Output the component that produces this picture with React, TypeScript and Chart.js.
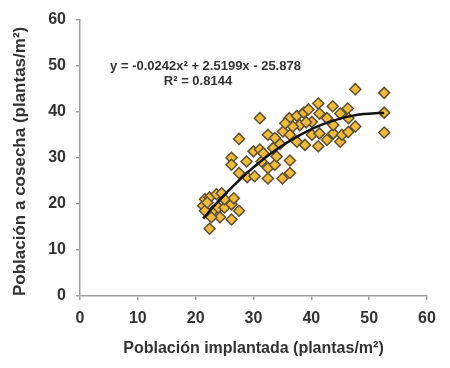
import React, { useEffect, useRef } from "react";
import { Chart, registerables } from "chart.js";

Chart.register(...registerables);

// Scatter data: Población implantada (x) vs Población a cosecha (y)
const implantada: number[] = [
  21.3, 21.6, 22.4, 23.6, 22.4, 23.0, 23.9, 25.0, 26.2, 27.5, 26.2, 24.2, 22.7, 21.6, 25.0, 22.0, 24.5, 26.6,
  26.2, 26.2, 27.5, 28.9, 30.2, 31.4, 32.5, 33.7, 32.5, 35.0, 36.3, 36.3, 34.0, 28.8, 30.0, 31.1, 31.7, 33.4,
  27.5, 31.1, 32.5, 33.7, 35.1, 36.3, 34.6,
  36.2, 37.5, 38.7, 40.1, 41.4, 42.7, 41.2, 38.0, 39.1, 37.5, 38.9, 40.1, 41.4, 41.2, 42.7, 43.8, 45.0, 45.3,
  46.4, 43.8, 47.6, 46.4, 45.0, 46.3, 43.7, 47.6, 52.6, 52.6, 52.6, 39.5, 36.8, 35.5,
];
const cosecha: number[] = [
  19.6, 21.0, 21.4, 22.1, 14.6, 18.5, 19.2, 19.2, 19.9, 18.5, 16.6, 17.1, 17.1, 18.5, 21.0, 20.3, 22.3, 21.2,
  30.0, 28.5, 26.7, 25.8, 26.0, 29.2, 27.8, 28.5, 25.5, 25.5, 29.4, 26.7, 30.3, 29.2, 31.4, 31.8, 31.0, 32.1,
  34.1, 38.6, 35.0, 34.3, 35.7, 35.0, 33.0,
  38.6, 39.1, 39.8, 37.8, 39.6, 38.6, 41.8, 37.1, 37.7, 33.5, 32.8, 35.0, 35.3, 32.5, 33.9, 35.3, 33.5, 35.0,
  35.6, 37.1, 36.8, 38.6, 39.6, 40.7, 41.2, 44.9, 44.1, 39.8, 35.5, 40.5, 36.8, 37.5,
];

// Polynomial trendline coefficients as printed on the chart (a x^2 + b x + c)
const trendCoeffs: number[] = [-0.0242, 2.5199, -25.878];
const trendX: number[] = [21.3, 23, 25, 27, 29, 31, 33, 35, 37, 39, 41, 43, 45, 47, 49, 51, 52.6];

const xTicks: number[] = [0, 10, 20, 30, 40, 50, 60];
const yTicks: number[] = [0, 10, 20, 30, 40, 50, 60];

const equationText = "y = -0.0242x² + 2.5199x - 25.878";
const r2Text = "R² = 0.8144";
const xTitle = "Población implantada (plantas/m²)";
const yTitle = "Población a cosecha (plantas/m²)";

const FONT = "'Liberation Sans', Arial, sans-serif";
const TEXT_COLOR = "#333333";
const AXIS_COLOR = "#a0a0a0";

export default function App() {
  const ref = useRef<HTMLCanvasElement | null>(null);

  useEffect(() => {
    if (!ref.current) return;
    const trendPts = trendX.map((x) => ({
      x,
      y: trendCoeffs[0] * x * x + trendCoeffs[1] * x + trendCoeffs[2],
    }));
    const pts = implantada.map((x, i) => ({ x, y: cosecha[i] }));

    const eqPlugin = {
      id: "eqText",
      afterDatasetsDraw(chart: any) {
        const { ctx, scales } = chart;
        ctx.save();
        ctx.fillStyle = TEXT_COLOR;
        ctx.font = `bold 13px ${FONT}`;
        ctx.textAlign = "center";
        ctx.textBaseline = "middle";
        ctx.fillText(equationText, scales.x.getPixelForValue(21.7), scales.y.getPixelForValue(49.9));
        ctx.fillText(r2Text, scales.x.getPixelForValue(20.4), scales.y.getPixelForValue(46.6));
        ctx.restore();
      },
    };

    const chart = new Chart(ref.current, {
      type: "scatter",
      data: {
        datasets: [
          {
            type: "scatter",
            data: pts,
            pointStyle: "rectRot",
            pointRadius: 5.5,
            backgroundColor: "#F0BA3C",
            borderColor: "#5E5030",
            borderWidth: 1.5,
            order: 2,
          },
          {
            type: "line",
            data: trendPts,
            borderColor: "#111111",
            borderWidth: 2.5,
            pointRadius: 0,
            tension: 0.4,
            fill: false,
            order: 1,
          } as any,
        ],
      },
      options: {
        animation: false,
        responsive: true,
        maintainAspectRatio: false,
        layout: { padding: { left: 0, right: 23, top: 17, bottom: 0 } },
        plugins: {
          legend: { display: false },
          tooltip: { enabled: false },
        },
        scales: {
          x: {
            type: "linear",
            min: 0,
            max: 60,
            afterBuildTicks: (s: any) => {
              s.ticks = xTicks.map((v) => ({ value: v }));
            },
            afterFit: (s: any) => {
              s.height = 72;
            },
            grid: { drawOnChartArea: false, drawTicks: true, tickLength: 4, color: AXIS_COLOR, lineWidth: 1.5 },
            border: { color: AXIS_COLOR, width: 1.5 },
            ticks: { color: TEXT_COLOR, font: { family: FONT, size: 16, weight: "bold" }, padding: 9, maxRotation: 0 },
            title: {
              display: true,
              text: xTitle,
              color: TEXT_COLOR,
              font: { family: FONT, size: 16, weight: "bold" },
              padding: { top: 0, bottom: 10 },
            },
          },
          y: {
            type: "linear",
            min: 0,
            max: 60,
            afterBuildTicks: (s: any) => {
              s.ticks = yTicks.map((v) => ({ value: v }));
            },
            afterFit: (s: any) => {
              s.width = 80;
            },
            grid: { drawOnChartArea: false, drawTicks: true, tickLength: 4, color: AXIS_COLOR, lineWidth: 1.5 },
            border: { color: AXIS_COLOR, width: 1.5 },
            ticks: { color: TEXT_COLOR, font: { family: FONT, size: 16, weight: "bold" }, padding: 10 },
            title: {
              display: true,
              text: yTitle,
              align: "start",
              color: TEXT_COLOR,
              font: { family: FONT, size: 17, weight: "bold" },
              padding: { top: 10, bottom: 0 },
            },
          },
        },
      },
      plugins: [eqPlugin],
    });
    return () => chart.destroy();
  }, []);

  return (
    <div style={{ position: "absolute", left: 0, top: 0, width: 450, height: 368, background: "#fff" }}>
      <canvas ref={ref} />
    </div>
  );
}
